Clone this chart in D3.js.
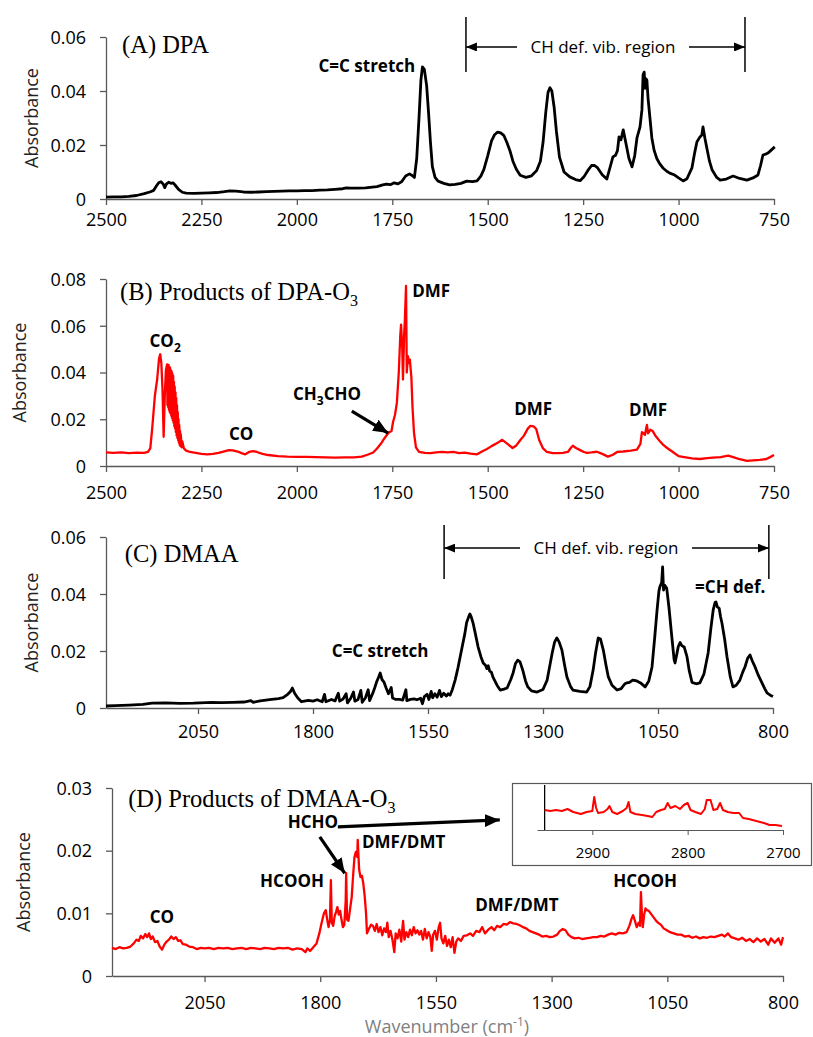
<!DOCTYPE html>
<html><head><meta charset="utf-8">
<script src="https://cdn.jsdelivr.net/npm/d3@7"></script>
<style>body{margin:0;background:#fff}svg{display:block}</style>
</head><body>
<svg id="c" width="813" height="1037"></svg>
<script>
// ---------------- DATA ----------------
const ticksAB = [2500, 2250, 2000, 1750, 1500, 1250, 1000, 750];
const ticksCD = [2050, 1800, 1550, 1300, 1050, 800];
const yTicks06 = [0, 0.02, 0.04, 0.06];
const yTicks08 = [0, 0.02, 0.04, 0.06, 0.08];
const yTicks03 = [0, 0.01, 0.02, 0.03];
const insetTicks = [2900, 2800, 2700];

// (A) DPA spectrum [wavenumber, absorbance]
const dpa = [[2500,0.0007],[2480,0.0008],[2460,0.0008],[2440,0.0010],[2420,0.0013],[2400,0.0020],[2385,0.0026],[2375,0.0032],[2368,0.0048],[2362,0.0060],[2356,0.0064],[2350,0.0055],[2346,0.0042],[2342,0.0055],[2336,0.0062],[2330,0.0058],[2324,0.0060],[2318,0.0050],[2310,0.0036],[2300,0.0025],[2290,0.0022],[2270,0.0021],[2250,0.0022],[2230,0.0023],[2210,0.0024],[2190,0.0027],[2175,0.0030],[2160,0.0029],[2140,0.0026],[2120,0.0025],[2100,0.0026],[2080,0.0027],[2060,0.0028],[2040,0.0029],[2020,0.0030],[2000,0.0030],[1980,0.0031],[1960,0.0031],[1940,0.0033],[1920,0.0034],[1900,0.0036],[1880,0.0038],[1870,0.0041],[1860,0.0040],[1840,0.0040],[1820,0.0041],[1808,0.0043],[1790,0.0046],[1775,0.0052],[1765,0.0055],[1755,0.0053],[1745,0.0060],[1735,0.0056],[1725,0.0065],[1715,0.0085],[1705,0.0093],[1698,0.0087],[1692,0.0080],[1686,0.0150],[1680,0.0300],[1675,0.0440],[1671,0.0489],[1666,0.0480],[1660,0.0420],[1655,0.0320],[1650,0.0210],[1645,0.0120],[1638,0.0080],[1630,0.0066],[1615,0.0058],[1600,0.0052],[1585,0.0054],[1570,0.0058],[1555,0.0066],[1540,0.0064],[1528,0.0067],[1518,0.0085],[1510,0.0110],[1500,0.0160],[1490,0.0215],[1482,0.0238],[1474,0.0248],[1466,0.0245],[1458,0.0236],[1450,0.0210],[1442,0.0180],[1434,0.0140],[1425,0.0110],[1415,0.0088],[1400,0.0080],[1385,0.0086],[1372,0.0105],[1362,0.0140],[1355,0.0210],[1348,0.0320],[1342,0.0395],[1337,0.0412],[1332,0.0400],[1326,0.0340],[1320,0.0250],[1312,0.0155],[1300,0.0100],[1285,0.0082],[1270,0.0072],[1258,0.0068],[1248,0.0082],[1238,0.0105],[1228,0.0124],[1220,0.0124],[1212,0.0115],[1200,0.0090],[1188,0.0074],[1178,0.0125],[1172,0.0156],[1165,0.0162],[1160,0.0180],[1156,0.0230],[1151,0.0219],[1145,0.0256],[1138,0.0207],[1130,0.0150],[1122,0.0119],[1115,0.0160],[1109,0.0226],[1101,0.0267],[1096,0.0330],[1093,0.0460],[1090,0.0470],[1088,0.0410],[1085,0.0445],[1083,0.0440],[1080,0.0374],[1075,0.0300],[1070,0.0226],[1064,0.0180],[1057,0.0150],[1050,0.0132],[1041,0.0115],[1030,0.0102],[1023,0.0096],[1012,0.0090],[1000,0.0078],[988,0.0067],[978,0.0075],[965,0.0115],[958,0.0170],[952,0.0211],[944,0.0230],[939,0.0237],[936,0.0267],[931,0.0225],[926,0.0189],[919,0.0140],[912,0.0107],[900,0.0080],[891,0.0070],[875,0.0074],[857,0.0085],[840,0.0076],[821,0.0070],[805,0.0078],[792,0.0089],[785,0.0125],[779,0.0163],[772,0.0166],[766,0.0170],[758,0.0180],[748,0.0193]];

// (B) Products of DPA-O3
const dpaO3 = [[2500,0.0058],[2480,0.0056],[2460,0.0058],[2440,0.0055],[2420,0.0057],[2400,0.0056],[2390,0.0060],[2384,0.0075],[2379,0.0160],[2372,0.0300],[2366,0.0370],[2361,0.0460],[2358,0.0478],[2355,0.0440],[2352,0.0330],[2349,0.0125],[2346,0.0300],[2343,0.0410],[2340,0.0435],[2339,0.0260],[2338,0.0430],[2337,0.0250],[2336,0.0432],[2335,0.0240],[2334,0.0425],[2333,0.0230],[2332,0.0420],[2331,0.0225],[2330,0.0410],[2329,0.0215],[2328,0.0405],[2327,0.0205],[2326,0.0395],[2325,0.0195],[2324,0.0385],[2323,0.0185],[2322,0.0360],[2321,0.0170],[2320,0.0340],[2319,0.0160],[2318,0.0315],[2317,0.0145],[2316,0.0290],[2315,0.0130],[2314,0.0260],[2313,0.0120],[2312,0.0230],[2311,0.0110],[2310,0.0200],[2309,0.0100],[2308,0.0175],[2307,0.0090],[2306,0.0150],[2305,0.0085],[2304,0.0135],[2302,0.0080],[2300,0.0105],[2296,0.0075],[2290,0.0066],[2280,0.0060],[2265,0.0056],[2250,0.0052],[2235,0.0050],[2220,0.0052],[2205,0.0056],[2190,0.0063],[2178,0.0068],[2168,0.0067],[2155,0.0062],[2145,0.0055],[2135,0.0050],[2125,0.0060],[2115,0.0064],[2105,0.0060],[2090,0.0052],[2075,0.0047],[2050,0.0042],[2025,0.0040],[2000,0.0039],[1975,0.0039],[1950,0.0038],[1925,0.0037],[1900,0.0036],[1875,0.0037],[1850,0.0037],[1830,0.0040],[1815,0.0048],[1800,0.0058],[1790,0.0075],[1780,0.0095],[1770,0.0120],[1760,0.0142],[1752,0.0150],[1748,0.0188],[1743,0.0218],[1738,0.0270],[1733,0.0400],[1729,0.0560],[1727,0.0605],[1724,0.0510],[1722,0.0370],[1719,0.0560],[1717,0.0625],[1714,0.0770],[1712,0.0400],[1709,0.0470],[1706,0.0440],[1704,0.0455],[1700,0.0380],[1697,0.0250],[1693,0.0140],[1688,0.0080],[1680,0.0060],[1665,0.0056],[1650,0.0055],[1635,0.0058],[1620,0.0060],[1605,0.0058],[1590,0.0060],[1575,0.0055],[1560,0.0057],[1545,0.0053],[1528,0.0050],[1515,0.0062],[1502,0.0073],[1490,0.0085],[1475,0.0098],[1462,0.0112],[1455,0.0103],[1445,0.0090],[1435,0.0077],[1425,0.0088],[1415,0.0110],[1405,0.0130],[1395,0.0160],[1388,0.0172],[1380,0.0170],[1373,0.0158],[1365,0.0110],[1355,0.0075],[1345,0.0060],[1330,0.0055],[1315,0.0055],[1303,0.0056],[1290,0.0060],[1282,0.0078],[1277,0.0087],[1270,0.0078],[1258,0.0068],[1248,0.0060],[1240,0.0056],[1228,0.0058],[1214,0.0061],[1200,0.0052],[1185,0.0040],[1172,0.0048],[1161,0.0060],[1145,0.0062],[1125,0.0066],[1109,0.0070],[1100,0.0095],[1096,0.0145],[1091,0.0138],[1088,0.0133],[1085,0.0160],[1083,0.0176],[1080,0.0140],[1074,0.0155],[1068,0.0150],[1060,0.0128],[1050,0.0108],[1040,0.0090],[1030,0.0077],[1015,0.0060],[1000,0.0042],[985,0.0038],[965,0.0033],[944,0.0030],[925,0.0034],[910,0.0036],[890,0.0038],[870,0.0044],[855,0.0037],[840,0.0029],[821,0.0022],[805,0.0024],[787,0.0026],[770,0.0030],[760,0.0038],[750,0.0047]];

// (C) DMAA
const dmaa = [[2250,0.0007],[2230,0.0008],[2200,0.0010],[2170,0.0013],[2150,0.0017],[2120,0.0018],[2090,0.0016],[2060,0.0017],[2046,0.0018],[2020,0.0020],[2000,0.0019],[1974,0.0020],[1950,0.0021],[1935,0.0026],[1930,0.0020],[1915,0.0025],[1890,0.0030],[1875,0.0033],[1865,0.0036],[1855,0.0048],[1849,0.0058],[1845,0.0070],[1840,0.0052],[1833,0.0035],[1825,0.0022],[1810,0.0027],[1800,0.0024],[1791,0.0029],[1780,0.0022],[1775,0.0048],[1772,0.0022],[1760,0.0030],[1752,0.0025],[1745,0.0052],[1742,0.0024],[1735,0.0031],[1728,0.0050],[1725,0.0018],[1718,0.0034],[1712,0.0056],[1709,0.0024],[1702,0.0030],[1696,0.0062],[1693,0.0020],[1686,0.0036],[1680,0.0064],[1677,0.0026],[1670,0.0052],[1666,0.0070],[1662,0.0090],[1657,0.0110],[1654,0.0123],[1650,0.0100],[1646,0.0092],[1641,0.0070],[1636,0.0050],[1630,0.0072],[1627,0.0035],[1620,0.0030],[1612,0.0030],[1605,0.0028],[1598,0.0064],[1596,0.0026],[1588,0.0030],[1580,0.0032],[1574,0.0029],[1566,0.0034],[1562,0.0015],[1558,0.0040],[1552,0.0048],[1548,0.0030],[1543,0.0058],[1540,0.0036],[1535,0.0050],[1530,0.0038],[1525,0.0062],[1521,0.0040],[1516,0.0052],[1510,0.0042],[1506,0.0050],[1502,0.0045],[1497,0.0065],[1491,0.0098],[1485,0.0140],[1480,0.0180],[1475,0.0220],[1470,0.0260],[1466,0.0300],[1462,0.0318],[1459,0.0330],[1456,0.0320],[1452,0.0298],[1447,0.0260],[1441,0.0214],[1435,0.0180],[1430,0.0158],[1425,0.0150],[1422,0.0138],[1419,0.0148],[1416,0.0130],[1412,0.0125],[1409,0.0109],[1400,0.0080],[1393,0.0063],[1385,0.0066],[1378,0.0070],[1370,0.0100],[1365,0.0123],[1360,0.0155],[1355,0.0168],[1350,0.0162],[1344,0.0133],[1338,0.0095],[1333,0.0074],[1325,0.0060],[1313,0.0056],[1300,0.0065],[1291,0.0098],[1285,0.0150],[1280,0.0193],[1275,0.0230],[1270,0.0246],[1265,0.0232],[1259,0.0204],[1253,0.0150],[1248,0.0109],[1240,0.0075],[1235,0.0063],[1220,0.0058],[1205,0.0056],[1198,0.0075],[1191,0.0133],[1186,0.0190],[1180,0.0246],[1175,0.0242],[1169,0.0204],[1163,0.0150],[1158,0.0109],[1150,0.0080],[1139,0.0063],[1130,0.0068],[1122,0.0085],[1118,0.0088],[1112,0.0090],[1105,0.0098],[1096,0.0095],[1088,0.0088],[1078,0.0074],[1070,0.0095],[1063,0.0144],[1057,0.0250],[1052,0.0344],[1048,0.0410],[1046,0.0425],[1042,0.0440],[1040,0.0495],[1038,0.0414],[1035,0.0430],[1031,0.0420],[1026,0.0350],[1020,0.0250],[1015,0.0170],[1013,0.0158],[1009,0.0190],[1006,0.0215],[1002,0.0230],[998,0.0218],[993,0.0214],[987,0.0180],[982,0.0130],[976,0.0090],[967,0.0085],[959,0.0088],[950,0.0120],[941,0.0193],[935,0.0280],[930,0.0344],[926,0.0370],[924,0.0372],[921,0.0355],[917,0.0350],[914,0.0320],[911,0.0298],[905,0.0240],[900,0.0180],[893,0.0110],[887,0.0074],[880,0.0080],[872,0.0098],[866,0.0125],[861,0.0144],[855,0.0175],[850,0.0186],[845,0.0165],[839,0.0144],[832,0.0115],[824,0.0088],[818,0.0068],[813,0.0053],[806,0.0045],[800,0.0040]];

// (D) Products of DMAA-O3
const dmaaO3 = [[2250,0.0045],[2242,0.0043],[2234,0.0046],[2226,0.0044],[2218,0.0045],[2210,0.0047],[2203,0.0052],[2197,0.0058],[2192,0.0056],[2188,0.0064],[2183,0.0060],[2178,0.0067],[2174,0.0062],[2170,0.0068],[2166,0.0059],[2162,0.0063],[2157,0.0054],[2152,0.0056],[2147,0.0047],[2142,0.0042],[2137,0.0050],[2132,0.0055],[2127,0.0058],[2122,0.0063],[2117,0.0059],[2112,0.0062],[2107,0.0056],[2102,0.0057],[2097,0.0051],[2090,0.0050],[2083,0.0047],[2075,0.0046],[2067,0.0043],[2058,0.0045],[2050,0.0044],[2040,0.0045],[2030,0.0043],[2020,0.0045],[2010,0.0044],[2000,0.0045],[1990,0.0043],[1980,0.0044],[1970,0.0045],[1960,0.0043],[1950,0.0045],[1940,0.0044],[1930,0.0043],[1920,0.0045],[1910,0.0044],[1900,0.0043],[1890,0.0045],[1880,0.0044],[1870,0.0045],[1860,0.0042],[1850,0.0044],[1840,0.0043],[1832,0.0038],[1828,0.0044],[1822,0.0040],[1815,0.0046],[1808,0.0052],[1802,0.0068],[1797,0.0085],[1792,0.0100],[1788,0.0105],[1785,0.0090],[1782,0.0078],[1779,0.0090],[1777,0.0153],[1775,0.0085],[1772,0.0080],[1769,0.0095],[1766,0.0102],[1763,0.0110],[1760,0.0098],[1757,0.0104],[1754,0.0090],[1751,0.0078],[1748,0.0082],[1745,0.0120],[1744,0.0164],[1742,0.0090],[1739,0.0088],[1735,0.0110],[1732,0.0126],[1729,0.0160],[1726,0.0190],[1723,0.0198],[1720,0.0190],[1719,0.0217],[1716,0.0170],[1713,0.0158],[1710,0.0160],[1707,0.0148],[1704,0.0128],[1701,0.0100],[1699,0.0068],[1695,0.0075],[1690,0.0082],[1686,0.0080],[1682,0.0072],[1678,0.0083],[1674,0.0070],[1670,0.0078],[1666,0.0065],[1662,0.0076],[1658,0.0070],[1655,0.0085],[1652,0.0062],[1648,0.0072],[1644,0.0058],[1640,0.0038],[1637,0.0068],[1633,0.0060],[1629,0.0074],[1625,0.0055],[1621,0.0088],[1618,0.0058],[1614,0.0070],[1610,0.0062],[1606,0.0074],[1602,0.0065],[1598,0.0078],[1594,0.0068],[1590,0.0073],[1586,0.0066],[1582,0.0072],[1578,0.0058],[1574,0.0075],[1570,0.0060],[1566,0.0070],[1562,0.0062],[1559,0.0040],[1556,0.0066],[1552,0.0072],[1548,0.0058],[1544,0.0078],[1541,0.0085],[1538,0.0060],[1534,0.0052],[1530,0.0064],[1526,0.0048],[1522,0.0058],[1518,0.0046],[1514,0.0062],[1510,0.0037],[1506,0.0055],[1502,0.0060],[1496,0.0056],[1490,0.0064],[1483,0.0065],[1476,0.0068],[1470,0.0064],[1463,0.0072],[1456,0.0070],[1450,0.0078],[1444,0.0068],[1437,0.0074],[1430,0.0078],[1424,0.0073],[1418,0.0080],[1411,0.0078],[1404,0.0083],[1397,0.0082],[1390,0.0086],[1383,0.0084],[1376,0.0083],[1369,0.0081],[1362,0.0078],[1355,0.0076],[1348,0.0072],[1341,0.0070],[1334,0.0068],[1327,0.0066],[1320,0.0063],[1312,0.0064],[1304,0.0062],[1296,0.0063],[1288,0.0066],[1282,0.0072],[1276,0.0075],[1270,0.0073],[1264,0.0066],[1257,0.0062],[1250,0.0060],[1242,0.0061],[1234,0.0059],[1226,0.0060],[1218,0.0061],[1210,0.0062],[1202,0.0062],[1194,0.0064],[1186,0.0063],[1178,0.0066],[1170,0.0068],[1162,0.0066],[1154,0.0069],[1146,0.0068],[1138,0.0070],[1132,0.0080],[1127,0.0092],[1124,0.0097],[1120,0.0088],[1116,0.0078],[1112,0.0085],[1109,0.0080],[1107,0.0134],[1105,0.0100],[1103,0.0078],[1100,0.0098],[1097,0.0108],[1094,0.0105],[1090,0.0104],[1086,0.0100],[1082,0.0096],[1078,0.0092],[1074,0.0088],[1070,0.0085],[1064,0.0082],[1058,0.0076],[1051,0.0073],[1044,0.0070],[1036,0.0068],[1028,0.0066],[1020,0.0066],[1012,0.0063],[1004,0.0064],[996,0.0061],[988,0.0063],[980,0.0060],[972,0.0062],[964,0.0061],[956,0.0063],[948,0.0062],[940,0.0064],[932,0.0066],[926,0.0063],[919,0.0068],[912,0.0062],[904,0.0060],[896,0.0058],[888,0.0061],[880,0.0056],[872,0.0059],[864,0.0054],[856,0.0060],[848,0.0055],[840,0.0059],[832,0.0050],[826,0.0060],[818,0.0053],[810,0.0060],[804,0.0050],[800,0.0062]];

// Inset of (D): 2950-2700 cm-1 region (HCHO)
const dmaaO3Inset = [[2950,0.0020],[2944,0.0019],[2938,0.0020],[2932,0.0019],[2926,0.0021],[2920,0.0018],[2912,0.0016],[2906,0.0018],[2900,0.0019],[2898,0.0033],[2896,0.0022],[2894,0.0017],[2888,0.0018],[2884,0.0021],[2882,0.0024],[2879,0.0018],[2874,0.0016],[2868,0.0019],[2864,0.0022],[2862,0.0028],[2860,0.0018],[2855,0.0016],[2848,0.0015],[2842,0.0014],[2837,0.0013],[2833,0.0018],[2828,0.0020],[2824,0.0021],[2821,0.0027],[2818,0.0022],[2813,0.0024],[2808,0.0021],[2804,0.0025],[2800,0.0027],[2797,0.0020],[2792,0.0018],[2786,0.0016],[2782,0.0021],[2780,0.0030],[2776,0.0030],[2773,0.0020],[2769,0.0021],[2766,0.0027],[2763,0.0020],[2758,0.0018],[2752,0.0017],[2746,0.0017],[2742,0.0012],[2736,0.0011],[2728,0.0009],[2720,0.0007],[2714,0.0005],[2708,0.0005],[2701,0.0004]];

// ---------------- DRAW ----------------
const svg = d3.select('#c');
const defs = svg.append('defs');
function addMarker(id, w, h) {
  defs.append('marker').attr('id', id).attr('markerUnits', 'userSpaceOnUse')
    .attr('viewBox', `0 0 ${w} ${h}`).attr('refX', w).attr('refY', h / 2)
    .attr('markerWidth', w).attr('markerHeight', h).attr('orient', 'auto')
    .append('path').attr('d', `M0,0L${w},${h/2}L0,${h}Z`).attr('fill', '#000');
}
addMarker('arrowThin', 11, 9);
addMarker('arrowThick', 15, 13);

const SANS = "'Open Sans', 'DejaVu Sans', sans-serif";
const SERIF = "'Liberation Serif', 'Times New Roman', serif";
const AXC = '#595959';

function makePanel(cfg) {
  const x = d3.scaleLinear().domain(cfg.xDomain).range([cfg.x0, cfg.x1]);
  const y = d3.scaleLinear().domain(cfg.yDomain).range([cfg.yb, cfg.yt]);
  const g = svg.append('g');
  const xa = g.append('g').attr('transform', `translate(0,${y(0)})`)
    .call(d3.axisBottom(x).tickValues(cfg.xTicks).tickSize(6).tickSizeOuter(0).tickFormat(d3.format('d')));
  xa.selectAll('text').attr('y', cfg.xLabOff).attr('dy', '0.35em');
  const ya = g.append('g').attr('transform', `translate(${cfg.x0},0)`)
    .call(d3.axisLeft(y).tickValues(cfg.yTicks).tickSize(6).tickSizeOuter(0)
      .tickFormat(d => d === 0 ? '0' : d3.format('.2f')(d)));
  ya.selectAll('text').attr('x', -20).attr('dy', '0.35em');
  [xa, ya].forEach(a => {
    a.select('.domain').attr('stroke', AXC).attr('stroke-width', 1.3);
    a.selectAll('.tick line').attr('stroke', AXC).attr('stroke-width', 1.3);
    a.selectAll('text').attr('font-family', SANS).attr('font-size', 18).attr('fill', '#000');
  });
  g.append('path').datum(cfg.data)
    .attr('d', d3.line().x(d => x(d[0])).y(d => y(d[1])))
    .attr('fill', 'none').attr('stroke', cfg.color).attr('stroke-width', cfg.sw)
    .attr('stroke-linejoin', 'round');
  g.append('text').attr('transform', `translate(${cfg.yLabX},${(y.range()[0] + y.range()[1]) / 2}) rotate(-90)`)
    .attr('text-anchor', 'middle').attr('dy', '0.35em')
    .attr('font-family', SANS).attr('font-size', 18).attr('fill', '#222').text('Absorbance');
  return { g, x, y };
}

function title(p, w, a, main, sub) {
  const t = p.g.append('text').attr('x', p.x(w)).attr('y', p.y(a))
    .attr('font-family', SERIF).attr('font-size', 24.5).attr('fill', '#000');
  t.append('tspan').text(main);
  if (sub) t.append('tspan').attr('font-size', 16).attr('dy', 6).text(sub);
}
function bold(p, w, a, parts, anchor) {
  const t = p.g.append('text').attr('x', p.x(w)).attr('y', p.y(a)).attr('dy', '0.35em')
    .attr('text-anchor', anchor || 'middle')
    .attr('font-family', SANS).attr('font-weight', 700).attr('font-size', 17).attr('fill', '#000');
  let shift = 0;
  parts.forEach(pt => {
    if (typeof pt === 'string') {
      t.append('tspan').attr('dy', -shift).text(pt); shift = 0;
    } else {
      t.append('tspan').attr('font-size', 12).attr('dy', 5).text(pt.sub); shift = 5;
    }
  });
}
function arrow(p, w1, a1, w2, a2, thick) {
  p.g.append('line').attr('x1', p.x(w1)).attr('y1', p.y(a1)).attr('x2', p.x(w2)).attr('y2', p.y(a2))
    .attr('stroke', '#000').attr('stroke-width', thick ? 3.2 : 1.5)
    .attr('marker-end', `url(#${thick ? 'arrowThick' : 'arrowThin'})`);
}
function chRegion(p, wl, wr, aTop, aBot, aArrow, wText, txtHalf) {
  [wl, wr].forEach(w => p.g.append('line').attr('x1', p.x(w)).attr('x2', p.x(w))
    .attr('y1', p.y(aTop)).attr('y2', p.y(aBot)).attr('stroke', '#000').attr('stroke-width', 1.5));
  const xc = p.x(wText), ya = p.y(aArrow);
  p.g.append('text').attr('x', xc).attr('y', ya).attr('dy', '0.35em').attr('text-anchor', 'middle')
    .attr('font-family', SANS).attr('font-size', 17).attr('fill', '#000').text('CH def. vib. region');
  p.g.append('line').attr('x1', xc - txtHalf).attr('y1', ya).attr('x2', p.x(wl)).attr('y2', ya)
    .attr('stroke', '#000').attr('stroke-width', 1.5).attr('marker-end', 'url(#arrowThin)');
  p.g.append('line').attr('x1', xc + txtHalf).attr('y1', ya).attr('x2', p.x(wr)).attr('y2', ya)
    .attr('stroke', '#000').attr('stroke-width', 1.5).attr('marker-end', 'url(#arrowThin)');
}

// Panel A
const pA = makePanel({ data: dpa, xDomain: [2500, 750], x0: 106, x1: 774, yDomain: [0, 0.06], yb: 199, yt: 37,
  xTicks: ticksAB, yTicks: yTicks06, color: '#000', sw: 2.8, xLabOff: 21, yLabX: 32 });
title(pA, 2458, 0.054, '(A) DPA');
bold(pA, 1690, 0.047, ['C=C stretch'], 'end');
chRegion(pA, 1557, 826, 0.0674, 0.047, 0.0563, 1198, 86);

// Panel B
const pB = makePanel({ data: dpaO3, xDomain: [2500, 750], x0: 106, x1: 774, yDomain: [0, 0.08], yb: 466, yt: 279,
  xTicks: ticksAB, yTicks: yTicks08, color: '#ff0000', sw: 2.3, xLabOff: 27, yLabX: 20 });
title(pB, 2463, 0.071, '(B) Products of DPA-O', '3');
bold(pB, 2345, 0.0509, ['CO', { sub: '2' }]);
bold(pB, 2146, 0.0111, ['CO']);
bold(pB, 1921, 0.0282, ['CH', { sub: '3' }, 'CHO']);
arrow(pB, 1856, 0.0235, 1761, 0.0141, true);
bold(pB, 1698, 0.0723, ['DMF'], 'start');
bold(pB, 1381, 0.0218, ['DMF']);
bold(pB, 1080, 0.0214, ['DMF']);

// Panel C
const pC = makePanel({ data: dmaa, xDomain: [2250, 800], x0: 106, x1: 773, yDomain: [0, 0.06], yb: 708, yt: 537,
  xTicks: ticksCD, yTicks: yTicks06, color: '#000', sw: 2.8, xLabOff: 24, yLabX: 32 });
title(pC, 2209, 0.0512, '(C) DMAA');
bold(pC, 1654, 0.0179, ['C=C stretch']);
bold(pC, 893, 0.0404, ['=CH def.']);
chRegion(pC, 1515, 809, 0.0642, 0.0453, 0.0561, 1163, 86);

// Panel D
const pD = makePanel({ data: dmaaO3, xDomain: [2250, 800], x0: 112, x1: 783, yDomain: [0, 0.03], yb: 976, yt: 788,
  xTicks: ticksCD, yTicks: yTicks03, color: '#ff0000', sw: 2.3, xLabOff: 27, yLabX: 24 });
title(pD, 2215, 0.027, '(D) Products of DMAA-O', '3');
bold(pD, 1816, 0.0236, ['HCHO']);
arrow(pD, 1762, 0.0238, 1412, 0.0249, true);
arrow(pD, 1801, 0.0222, 1747, 0.0164, true);
bold(pD, 1861, 0.0142, ['HCOOH']);
bold(pD, 1710, 0.0204, ['DMF/DMT'], 'start');
bold(pD, 2142, 0.0085, ['CO']);
bold(pD, 1375, 0.0104, ['DMF/DMT']);
bold(pD, 1098, 0.0142, ['HCOOH']);
const xl = pD.g.append('text').attr('x', 447).attr('y', 1033).attr('text-anchor', 'middle')
  .attr('font-family', SANS).attr('font-size', 18).attr('fill', '#7f7f7f');
xl.append('tspan').text('Wavenumber (cm');
xl.append('tspan').attr('font-size', 12).attr('dy', -7).text('-1');
xl.append('tspan').attr('dy', 7).text(')');

// Inset
const ig = svg.append('g');
ig.append('rect').attr('x', 512.5).attr('y', 783.5).attr('width', 299).attr('height', 82)
  .attr('fill', '#fff').attr('stroke', AXC).attr('stroke-width', 1.2);
const ix = d3.scaleLinear().domain([2958, 2700]).range([537, 783]);
const iy = d3.scaleLinear().domain([0, 0.0045]).range([830, 785]);
const ixa = ig.append('g').attr('transform', `translate(0,${iy(0)})`)
  .call(d3.axisBottom(ix).tickValues(insetTicks).tickSize(5).tickSizeOuter(0).tickFormat(d3.format('d')));
ixa.select('.domain').attr('stroke', AXC).attr('stroke-width', 1.2);
ixa.selectAll('.tick line').attr('stroke', AXC);
ixa.selectAll('text').attr('y', 23).attr('dy', '0.35em').attr('font-family', SANS).attr('font-size', 15).attr('fill', '#000');
ig.append('line').attr('x1', ix(2950)).attr('x2', ix(2950)).attr('y1', iy(0)).attr('y2', iy(0.0045))
  .attr('stroke', '#000').attr('stroke-width', 1.3);
ig.append('path').datum(dmaaO3Inset)
  .attr('d', d3.line().x(d => ix(d[0])).y(d => iy(d[1])))
  .attr('fill', 'none').attr('stroke', '#ff0000').attr('stroke-width', 2).attr('stroke-linejoin', 'round');
</script>
</body></html>
